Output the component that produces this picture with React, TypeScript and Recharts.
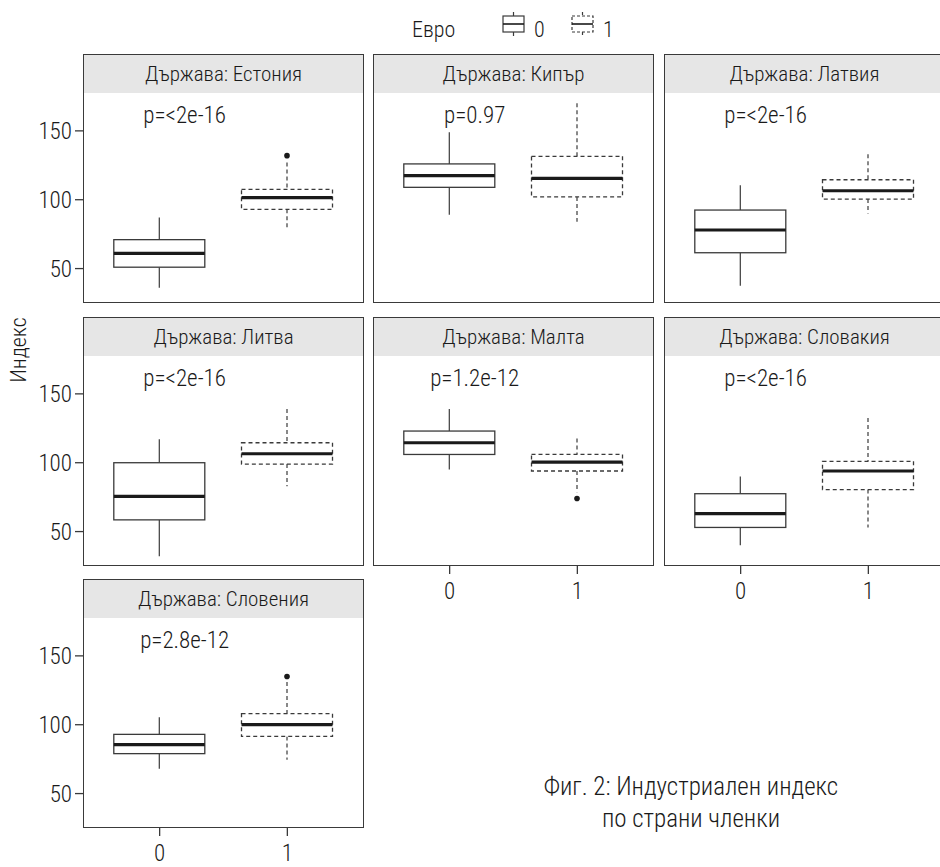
import React from "react";
import { ComposedChart, Bar, XAxis, YAxis, ReferenceDot } from "recharts";

const FONT = "'Roboto Condensed', 'Liberation Sans Narrow', 'DejaVu Sans Condensed', 'Arial Narrow', sans-serif";
const WEIGHT = 350;
const INK = "#1a1a1a";
const LINE = "#3a3a3a";

// Категории
const countries = ["Естония", "Кипър", "Латвия", "Литва", "Малта", "Словакия", "Словения"];
const pLabels = ["p=<2e-16", "p=0.97", "p=<2e-16", "p=<2e-16", "p=1.2e-12", "p=<2e-16", "p=2.8e-12"];
const euroGroups = ["0", "1"];
const yTicks = [50, 100, 150];
const yDomain = [25, 177.5];
const pLabelY = 162;

// Евро = 0
const lower0 = [36, 89, 37.5, 32, 95, 40, 68];
const q1_0 = [51, 109, 61.5, 58.5, 106, 53, 79];
const median0 = [61, 117.5, 78, 75.5, 114.5, 63, 85.5];
const q3_0 = [71, 126, 92.5, 100, 123, 77.5, 93];
const upper0 = [87, 149, 110.5, 117, 139, 90, 105.5];
const outliers0: number[][] = [[], [], [], [], [], [], []];

// Евро = 1
const lower1 = [78, 84, 90, 83, 78.5, 53, 74.5];
const q1_1 = [93, 102, 100.5, 99, 94, 80.5, 91.5];
const median1 = [101.5, 115.5, 106.5, 106.5, 100.5, 94, 100];
const q3_1 = [107.5, 131.5, 114.5, 114.5, 106, 101, 108];
const upper1 = [127, 170, 133, 139, 117.5, 132.5, 131];
const outliers1: number[][] = [[132], [], [], [], [74], [], [135]];

// panel grid
const colX = [83, 373, 664];
const rowTop = [54, 317, 579];
const PANEL_W = 281;
const STRIP_H = 39;
const PLOT_H = 210;
const Y_AXIS_W = 83;
const X_AXIS_H = 38;

function BoxShape(props: any) {
  const { x, y, width, height, payload } = props;
  const top = Math.min(y, y + height);
  const bot = Math.max(y, y + height);
  const hi = payload.upper;
  const lo = payload.lower;
  const pix = (v: number) => top + ((hi - v) / (hi - lo)) * (bot - top);
  const dash = payload.group === "1" ? "4 3" : undefined;
  const cx = x + width / 2;
  return (
    <g>
      <line x1={cx} x2={cx} y1={pix(hi)} y2={pix(payload.q3)} stroke={LINE} strokeWidth={1.2} strokeDasharray={dash} />
      <line x1={cx} x2={cx} y1={pix(payload.q1)} y2={pix(lo)} stroke={LINE} strokeWidth={1.2} strokeDasharray={dash} />
      <rect
        x={x}
        y={pix(payload.q3)}
        width={width}
        height={pix(payload.q1) - pix(payload.q3)}
        fill="#fff"
        stroke={LINE}
        strokeWidth={1.3}
        strokeDasharray={dash}
      />
      <line x1={x} x2={x + width} y1={pix(payload.median)} y2={pix(payload.median)} stroke={INK} strokeWidth={3.2} />
      {payload.outliers.map((o: number, k: number) => (
        <circle key={k} cx={cx} cy={pix(o)} r={2.8} fill={INK} />
      ))}
    </g>
  );
}

function Panel({ idx }: { idx: number }) {
  const row = Math.floor(idx / 3);
  const col = idx % 3;
  const showY = col === 0;
  const showX = idx >= 4;
  const data = [
    { group: euroGroups[0], lower: lower0[idx], q1: q1_0[idx], median: median0[idx], q3: q3_0[idx], upper: upper0[idx], outliers: outliers0[idx] },
    { group: euroGroups[1], lower: lower1[idx], q1: q1_1[idx], median: median1[idx], q3: q3_1[idx], upper: upper1[idx], outliers: outliers1[idx] },
  ];
  const left = colX[col];
  const top = rowTop[row];
  const chartW = PANEL_W + (showY ? Y_AXIS_W : 0);
  const chartH = PLOT_H + (showX ? X_AXIS_H : 0);
  const tickStyle = { fill: INK, fontSize: 23, fontFamily: FONT, fontWeight: WEIGHT };
  return (
    <>
      <div
        style={{
          position: "absolute",
          left,
          top,
          width: PANEL_W,
          height: STRIP_H + PLOT_H,
          boxSizing: "border-box",
          border: `1.3px solid ${LINE}`,
          background: "#fff",
        }}
      >
        <div
          style={{
            height: STRIP_H - 1,
            background: "#e6e6e6",
            color: INK,
            fontSize: 21,
            lineHeight: `${STRIP_H - 1}px`,
            textAlign: "center",
          }}
        >
          Държава: {countries[idx]}
        </div>
      </div>
      <div style={{ position: "absolute", left: left - (showY ? Y_AXIS_W : 0), top: top + STRIP_H }}>
        <ComposedChart width={chartW} height={chartH} data={data} margin={{ top: 0, right: 0, bottom: 0, left: 0 }}>
          <XAxis
            dataKey="group"
            type="category"
            hide={!showX}
            height={X_AXIS_H}
            padding={{ left: 12.8, right: 12.8 }}
            axisLine={false}
            tickLine={{ stroke: LINE, strokeWidth: 1.3 }}
            tickSize={8}
            tickMargin={9}
            tick={tickStyle}
          />
          <YAxis
            type="number"
            domain={yDomain}
            ticks={yTicks}
            hide={!showY}
            width={Y_AXIS_W}
            axisLine={false}
            tickLine={{ stroke: LINE, strokeWidth: 1.3 }}
            tickSize={8}
            tickMargin={3}
            tick={tickStyle}
            allowDataOverflow
          />
          <Bar
            dataKey={(d: any) => [d.lower, d.upper]}
            barSize={91}
            shape={BoxShape}
            isAnimationActive={false}
          />
          <ReferenceDot
            x={euroGroups[0]}
            y={pLabelY}
            r={0}
            ifOverflow="visible"
            shape={(p: any) => (
              <text x={p.cx + 25} y={p.cy + 9} textAnchor="middle" fill={INK} fontSize={23} fontFamily={FONT} fontWeight={WEIGHT}>
                {pLabels[idx]}
              </text>
            )}
          />
        </ComposedChart>
      </div>
    </>
  );
}

function LegendKey({ dashed }: { dashed: boolean }) {
  const dash = dashed ? "3 2" : undefined;
  return (
    <svg width={23} height={26} style={{ display: "block" }}>
      <line x1={11.5} x2={11.5} y1={1} y2={5} stroke={LINE} strokeWidth={1.2} strokeDasharray={dash} />
      <rect x={1} y={5} width={21} height={16} fill="#fff" stroke={LINE} strokeWidth={1.2} strokeDasharray={dash} />
      <line x1={1} x2={22} y1={13} y2={13} stroke={INK} strokeWidth={1.6} />
      <line x1={11.5} x2={11.5} y1={21} y2={25} stroke={LINE} strokeWidth={1.2} strokeDasharray={dash} />
    </svg>
  );
}

export default function App() {
  return (
    <div
      style={{
        position: "absolute",
        left: 0,
        top: 0,
        width: 940,
        height: 867,
        overflow: "hidden",
        background: "#fff",
        fontFamily: FONT,
        fontWeight: WEIGHT,
        color: INK,
      }}
    >
      {/* легенда */}
      <div style={{ position: "absolute", left: 412, top: 17, fontSize: 22, lineHeight: "26px" }}>Евро</div>
      <div style={{ position: "absolute", left: 502, top: 11 }}>
        <LegendKey dashed={false} />
      </div>
      <div style={{ position: "absolute", left: 534, top: 17, fontSize: 22, lineHeight: "26px" }}>{euroGroups[0]}</div>
      <div style={{ position: "absolute", left: 571, top: 11 }}>
        <LegendKey dashed />
      </div>
      <div style={{ position: "absolute", left: 603, top: 17, fontSize: 22, lineHeight: "26px" }}>{euroGroups[1]}</div>

      {/* ос Y */}
      <div
        style={{
          position: "absolute",
          left: 18,
          top: 350,
          fontSize: 22,
          transform: "translate(-50%, -50%) rotate(-90deg)",
          whiteSpace: "nowrap",
        }}
      >
        Индекс
      </div>

      {countries.map((_, i) => (
        <Panel key={i} idx={i} />
      ))}

      {/* надпис */}
      <div
        style={{
          position: "absolute",
          left: 691,
          top: 771,
          transform: "translateX(-50%)",
          fontSize: 25,
          lineHeight: "32px",
          textAlign: "center",
          whiteSpace: "nowrap",
        }}
      >
        Фиг. 2: Индустриален индекс
        <br />
        по страни членки
      </div>
    </div>
  );
}
